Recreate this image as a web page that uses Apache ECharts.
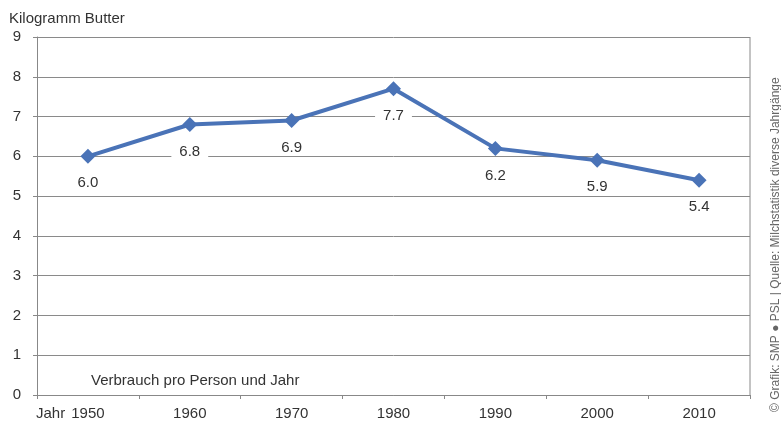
<!DOCTYPE html>
<html>
<head>
<meta charset="utf-8">
<script src="https://cdn.jsdelivr.net/npm/echarts@6/dist/echarts.min.js"></script>
<style>
  html, body { margin: 0; padding: 0; background: #fff; }
  #chart { width: 781px; height: 426px; }
</style>
</head>
<body>
<div id="chart"></div>
<script>
const years = ['1950', '1960', '1970', '1980', '1990', '2000', '2010'];
const butterKg = [6.0, 6.8, 6.9, 7.7, 6.2, 5.9, 5.4];
const yTicks = { min: 0, max: 9, interval: 1 };

const font = '"Liberation Sans", Arial, sans-serif';
const chart = echarts.init(document.getElementById('chart'));

chart.setOption({
  animation: false,
  textStyle: { fontFamily: font, color: '#333' },
  grid: { left: 37, right: 31, top: 37, bottom: 31 },
  title: [
    { text: 'Kilogramm Butter', left: 4, top: 6,
      textStyle: { fontSize: 15, fontWeight: 'normal', color: '#333', fontFamily: font } },
    { text: 'Verbrauch pro Person und Jahr', left: 86, top: 368,
      textStyle: { fontSize: 15, fontWeight: 'normal', color: '#333', fontFamily: font } },
    { text: 'Jahr', left: 31, top: 401,
      textStyle: { fontSize: 15, fontWeight: 'normal', color: '#333', fontFamily: font } }
  ],
  graphic: [
    {
      type: 'text', x: 770, y: 412, rotation: Math.PI / 2,
      style: { text: '© Grafik: SMP ● PSL | Quelle: Milchstatistik diverse Jahrgänge',
        fill: '#666', font: '12px ' + font }
    },
    {
      type: 'line', shape: { x1: 750, y1: 37, x2: 750, y2: 395 },
      style: { stroke: '#888', lineWidth: 1 }
    }
  ],
  xAxis: {
    type: 'category',
    data: years,
    boundaryGap: true,
    axisLine: { lineStyle: { color: '#888', width: 1 } },
    axisTick: { show: true, alignWithLabel: false, length: 4, lineStyle: { color: '#888' } },
    axisLabel: { fontSize: 15, color: '#333', margin: 11 }
  },
  yAxis: {
    type: 'value',
    min: yTicks.min, max: yTicks.max, interval: yTicks.interval,
    axisLine: { show: true, lineStyle: { color: '#888', width: 1 } },
    axisTick: { show: true, length: 4, lineStyle: { color: '#888' } },
    axisLabel: { fontSize: 15, color: '#333', margin: 16 },
    splitLine: { lineStyle: { color: '#8a8a8a', width: 1 } }
  },
  series: [{
    type: 'line',
    data: butterKg,
    symbol: 'diamond',
    symbolSize: 15,
    lineStyle: { color: '#4a73b7', width: 4 },
    itemStyle: { color: '#4a73b7' },
    label: {
      show: true,
      position: 'bottom',
      distance: 11,
      fontSize: 15,
      color: '#333',
      backgroundColor: '#fff',
      padding: [1, 8],
      formatter: p => p.value.toFixed(1)
    }
  }]
});
</script>
</body>
</html>
